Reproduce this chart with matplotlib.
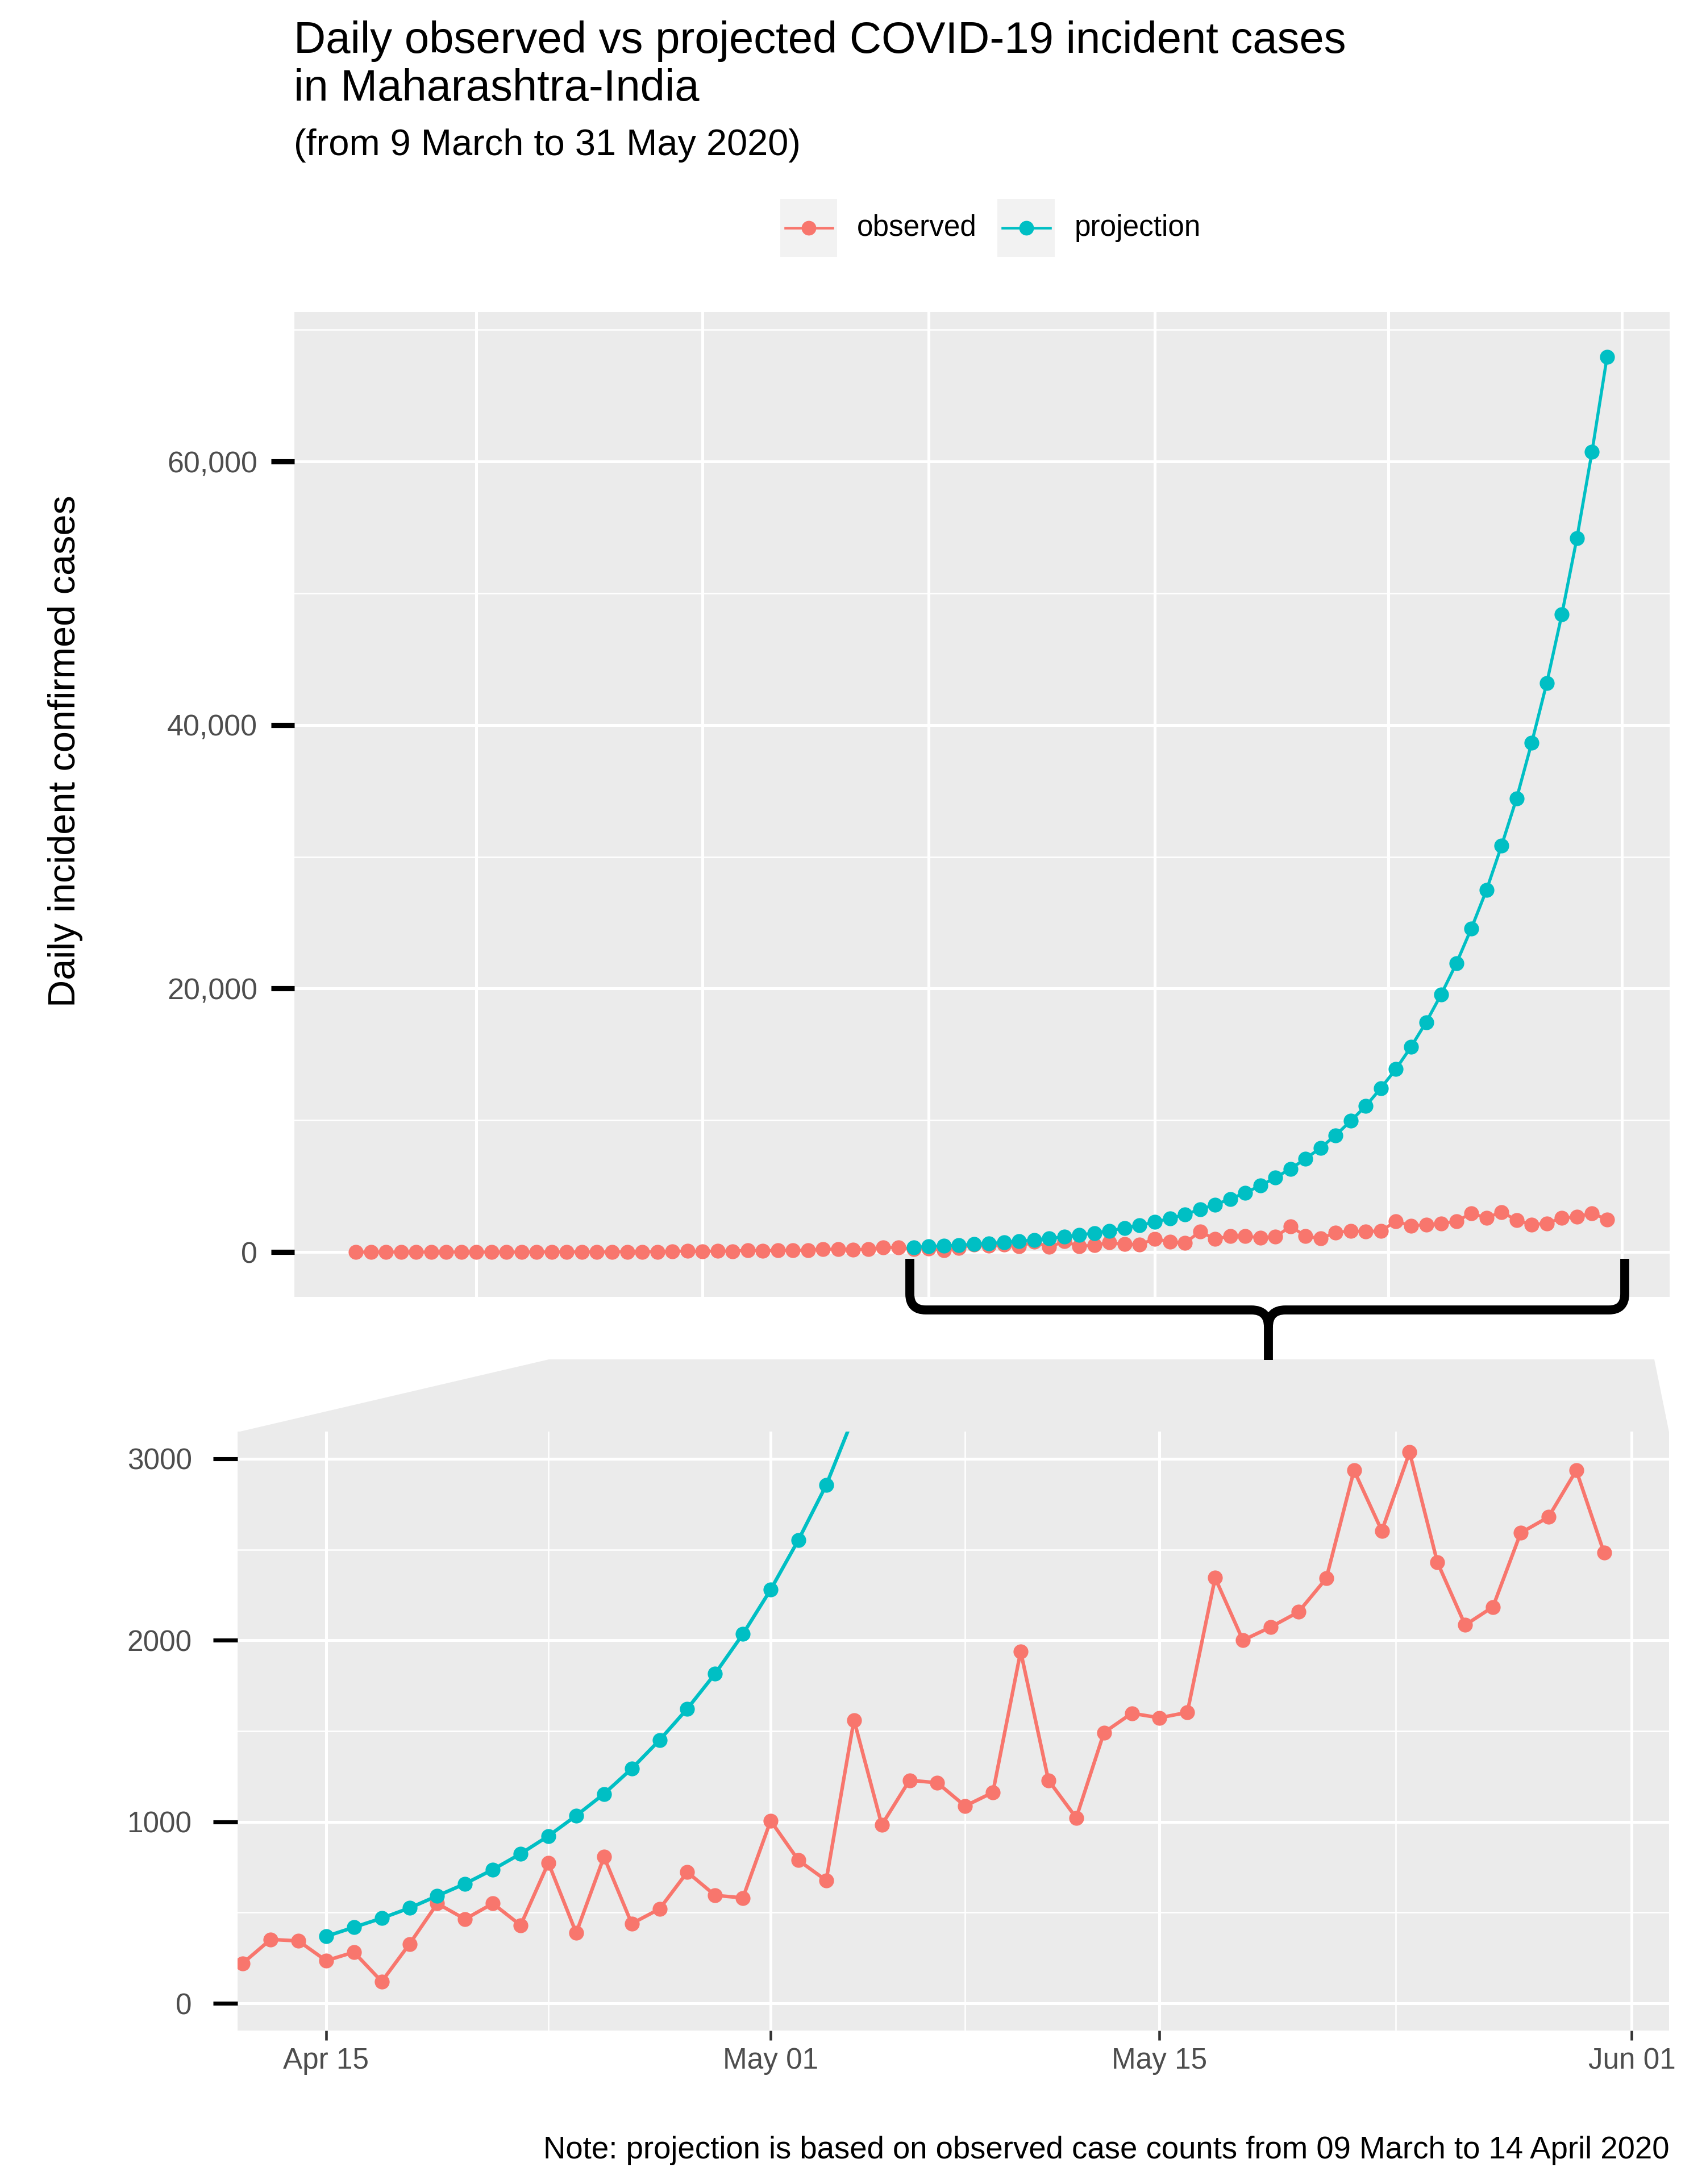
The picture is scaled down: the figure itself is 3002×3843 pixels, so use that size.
"""Daily observed vs projected COVID-19 incident cases, Maharashtra.

Main panel (full range) + zoomed panel below, joined by a brace and a
grey trapezoid, ggplot-like grey theme.
"""
import pandas as pd

import matplotlib
matplotlib.use("Agg")
import matplotlib.pyplot as plt
from matplotlib.patches import Rectangle, Polygon, PathPatch
from matplotlib.path import Path
from matplotlib.lines import Line2D
from matplotlib.ticker import FuncFormatter
import matplotlib.dates as mdates

plt.rcParams["font.family"] = ["Liberation Sans", "DejaVu Sans"]

# --- data ---
obs_start = "2020-03-09"
observed = [
    # Mar 9 - Mar 31
    2, 3, 6, 6, 3, 5, 7, 6, 2, 5, 4, 3, 12, 10, 15, 10, 15, 6, 28, 24, 16, 37, 82,
    # Apr 1 - Apr 30
    33, 88, 67, 145, 113, 120, 150, 117, 229, 210, 187,
    221, 352, 344, 235, 282, 120, 327, 550, 464, 550, 430, 774, 388, 807, 439,
    520, 723, 595, 581,
    # May 1 - May 31
    1006, 788, 677, 1561, 983, 1229, 1215, 1087, 1162, 1939, 1229, 1022, 1492,
    1598, 1573, 1603, 2344, 2000, 2073, 2156, 2341, 2936, 2603, 3036, 2430,
    2084, 2184, 2592, 2679, 2936, 2483,
]
proj_start = "2020-04-15"
projection = [
    # Apr 15 - Apr 30
    369, 419, 469, 525, 592, 659, 737, 824, 922, 1034, 1154, 1293, 1450, 1623,
    1816, 2034,
    # May 1 - May 31
    2279, 2553, 2855, 3237, 3597, 4029, 4504, 5036, 5654, 6317, 7079, 7914,
    8870, 9960, 11090, 12450, 13900, 15580, 17450, 19560, 21900, 24570, 27470,
    30840, 34440, 38650, 43190, 48390, 54190, 60740, 67950,
]

top_yticks = [0, 20000, 40000, 60000]
top_yminor = [10000, 30000, 50000, 70000]
top_xgrid = ["2020-03-17 00:00", "2020-04-01 00:00", "2020-04-16 00:00",
             "2020-05-01 00:00", "2020-05-16 12:00", "2020-06-01 00:00"]
zoom_yticks = [0, 1000, 2000, 3000]
zoom_yminor = [500, 1500, 2500]
zoom_xticks = ["2020-04-15 00:00", "2020-05-01 00:00", "2020-05-15 00:00",
               "2020-06-01 00:00"]
zoom_xminor = ["2020-04-23 00:00", "2020-05-08 00:00", "2020-05-23 12:00"]

obs_dates = pd.date_range(obs_start, periods=len(observed), freq="D")
proj_dates = pd.date_range(proj_start, periods=len(projection), freq="D")

RED = "#F8766D"
CYAN = "#00BFC4"
PANEL = "#EBEBEB"
TXT = "#4D4D4D"

W, H = 3002, 3843
fig = plt.figure(figsize=(W / 300, H / 300), dpi=300)


def box(l, t, r, b):
    return [l / W, 1 - b / H, (r - l) / W, (b - t) / H]


def fxy(x, y):
    return (x / W, 1 - y / H)


def draw_series(ax, lw):
    ax.plot(obs_dates, observed, color=RED, lw=lw, zorder=2)
    ax.plot(proj_dates, projection, color=CYAN, lw=lw, zorder=2)
    ax.plot(obs_dates, observed, ls="none", marker="o", ms=6.3, mec="none",
            color=RED, zorder=3)
    ax.plot(proj_dates, projection, ls="none", marker="o", ms=6.3, mec="none",
            color=CYAN, zorder=3)


def style(ax):
    ax.set_facecolor(PANEL)
    for s in ax.spines.values():
        s.set_visible(False)
    ax.set_axisbelow(True)
    ax.grid(which="major", color="white", lw=1.2)
    ax.grid(which="minor", color="white", lw=0.6)


def dt(strings):
    return pd.to_datetime(strings, format="%Y-%m-%d %H:%M")


# --- main panel ---
ax1 = fig.add_axes(box(518, 549, 2938, 2282))
style(ax1)
draw_series(ax1, 1.3)
t0 = pd.Timestamp(obs_start)
ax1.set_xlim(t0 - pd.Timedelta(days=4.07), t0 + pd.Timedelta(days=87.15))
ax1.set_ylim(-3400, 71350)
ax1.set_xticks(dt(top_xgrid))
ax1.set_yticks(top_yticks)
ax1.set_yticks(top_yminor, minor=True)
ax1.yaxis.set_major_formatter(FuncFormatter(lambda v, p: f"{int(v):,}"))
ax1.tick_params(axis="x", which="both", length=0, labelbottom=False)
ax1.tick_params(axis="y", which="major", length=9.8, width=2.2, color="black",
                pad=5.8, labelsize=12.5, labelcolor=TXT)
ax1.tick_params(axis="y", which="minor", length=0)

# --- zoom panel ---
ax2 = fig.add_axes(box(418, 2519, 2937, 3573))
style(ax2)
draw_series(ax2, 1.5)
t1 = pd.Timestamp(proj_start)
ax2.set_xlim(t1 - pd.Timedelta(days=3.19), t1 + pd.Timedelta(days=48.34))
ax2.set_ylim(-150, 3150)
ax2.set_xticks(dt(zoom_xticks))
ax2.set_xticks(dt(zoom_xminor), minor=True)
ax2.xaxis.set_major_formatter(mdates.DateFormatter("%b %d"))
ax2.set_yticks(zoom_yticks)
ax2.set_yticks(zoom_yminor, minor=True)
ax2.tick_params(axis="x", which="major", length=4, width=1.1, color="#333333",
                pad=3, labelsize=12.3, labelcolor=TXT)
ax2.tick_params(axis="y", which="major", length=10.3, width=1.7, color="black",
                pad=9, labelsize=12.3, labelcolor=TXT)
ax2.tick_params(which="minor", length=0)

# --- zoom connector: trapezoid + brace ---
fig.add_artist(Polygon([fxy(418, 2520), fxy(966, 2392), fxy(2911, 2392),
                        fxy(2937, 2520)], closed=True, transform=fig.transFigure,
                       facecolor=PANEL, edgecolor="none", zorder=-1))

L, R, C = 1601, 2859, 2232
ytop, ybar, ytip = 2215, 2305, 2393
verts = [fxy(L, ytop), fxy(L, 2277), fxy(L, ybar), fxy(L + 28, ybar),
         fxy(C - 30, ybar), fxy(C, ybar), fxy(C, ybar + 30), fxy(C, ytip),
         fxy(R, ytop), fxy(R, 2277), fxy(R, ybar), fxy(R - 28, ybar),
         fxy(C + 30, ybar), fxy(C, ybar), fxy(C, ybar + 30)]
codes = [Path.MOVETO, Path.LINETO, Path.CURVE3, Path.CURVE3,
         Path.LINETO, Path.CURVE3, Path.CURVE3, Path.LINETO,
         Path.MOVETO, Path.LINETO, Path.CURVE3, Path.CURVE3,
         Path.LINETO, Path.CURVE3, Path.CURVE3]
fig.add_artist(PathPatch(Path(verts, codes), transform=fig.transFigure,
                         fill=False, edgecolor="black", lw=3.8,
                         capstyle="butt", joinstyle="round", zorder=10))

# --- legend (drawn by hand to get the grey key boxes) ---
for (kl, kr, tx, label, col) in [(1373, 1473, 1508, "observed", RED),
                                 (1755, 1856, 1891, "projection", CYAN)]:
    fig.add_artist(Rectangle(fxy(kl, 452), (kr - kl) / W, (452 - 350) / H,
                             transform=fig.transFigure, facecolor="#F2F2F2",
                             edgecolor="none"))
    fig.add_artist(Line2D([(kl + 9) / W, (kr - 8) / W], [1 - 401 / H] * 2,
                          transform=fig.transFigure, color=col, lw=1.1))
    fig.add_artist(Line2D([(kl + kr) / 2 / W], [1 - 401 / H], ls="none",
                          marker="o", ms=6.2, mec="none", color=col,
                          transform=fig.transFigure))
    fig.text(tx / W, 1 - 401 / H, label, fontsize=12.3, va="center", ha="left")

# --- texts ---
fig.text(517 / W, 1 - 93 / H, "Daily observed vs projected COVID-19 incident cases",
         fontsize=18.7, va="baseline", ha="left")
fig.text(517 / W, 1 - 177 / H, "in Maharashtra-India",
         fontsize=18.7, va="baseline", ha="left")
fig.text(517 / W, 1 - 273 / H, "(from 9 March to 31 May 2020)",
         fontsize=15.6, va="baseline", ha="left")
fig.text(115 / W, 1 - 1322 / H, "Daily incident confirmed cases", fontsize=16,
         rotation=90, ha="center", va="center")
fig.text(2937 / W, 1 - 3798 / H,
         "Note: projection is based on observed case counts from 09 March to 14 April 2020",
         fontsize=13.1, ha="right", va="baseline")

fig.savefig("out.png", dpi=300)
